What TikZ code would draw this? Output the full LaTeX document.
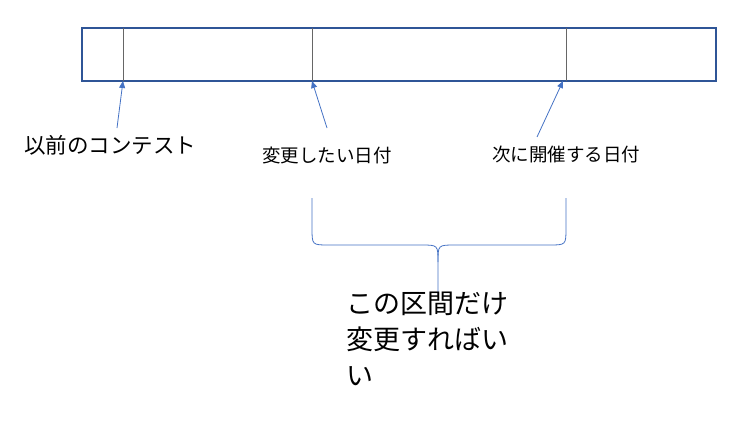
\documentclass[tikz,border=0pt]{standalone}
\usepackage{fontspec}
\setmainfont{Noto Sans CJK JP}
\usetikzlibrary{arrows.meta}
\definecolor{barblue}{HTML}{2F5597}
\definecolor{linkblue}{HTML}{4472C4}
\tikzset{
  bar/.style={draw=barblue, line width=1.5pt},
  tick/.style={draw=gray!80!black, line width=0.5pt},
  pointer/.style={draw=linkblue, line width=0.8pt, -{Triangle[length=7pt,width=6pt]}},
  label/.style={inner sep=0pt, font=\fontsize{18.5}{22}\selectfont}
}
\begin{document}
\begin{tikzpicture}[x=1pt,y=-1pt]
\useasboundingbox (0,0) rectangle (736,431);
% timeline bar
\draw[bar] (82,28) rectangle (716,81);
\coordinate (prev) at (123,81);
\coordinate (change) at (312,81);
\coordinate (next) at (566,81);
\foreach \p in {prev,change,next}
  \draw[tick] (\p) -- ++(0,-53);
% labels
\node[label, anchor=west, font=\fontsize{21.5}{24}\selectfont] (lprev) at (24,145) {以前のコンテスト};
\node[label] (lchange) at (327,155) {変更したい日付};
\node[label] (lnext) at (566,155) {次に開催する日付};
\coordinate (sprev) at (117,128);
\coordinate (schange) at (327,128);
\coordinate (snext) at (537,137);
\draw[pointer] (sprev) -- (prev);
\draw[pointer] (schange) -- (change);
\draw[pointer] (snext) -- ([xshift=-3pt]next);
% brace
\coordinate (bl) at (312,198);
\coordinate (br) at (566,198);
\coordinate (tip) at (438,295);
\draw[pointer, -] (bl) -- (312,228) .. controls (312,245) .. (329,245) -- (421,245)
  .. controls (438,245) .. (438,262) -- (tip);
\draw[pointer, -] (br) -- (566,228) .. controls (566,245) .. (549,245) -- (455,245)
  .. controls (438,245) .. (438,262);
% note
\node[label, anchor=north west, align=left, font=\fontsize{27}{36}\selectfont] (note) at (346,292)
  {この区間だけ\\変更すればい\\い};
\end{tikzpicture}
\end{document}
